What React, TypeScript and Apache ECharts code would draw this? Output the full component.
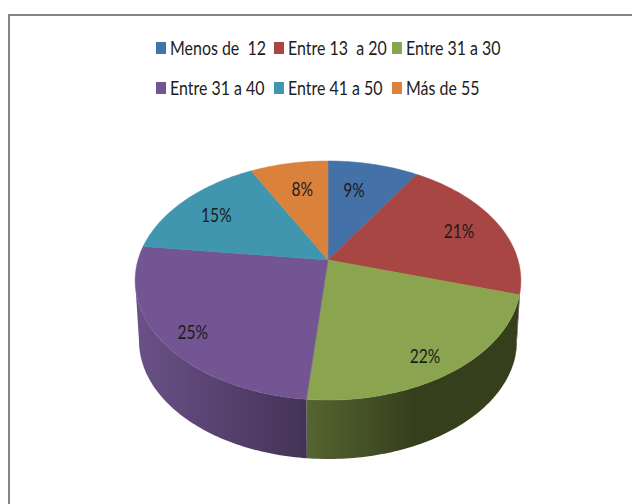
import React, { useEffect, useRef } from "react";
import * as echarts from "echarts";

const categories = ["Menos de  12", "Entre 13  a 20", "Entre 31 a 30", "Entre 31 a 40", "Entre 41 a 50", "Más de 55"];
const values = [9.0, 20.6, 21.9, 25.4, 15.4, 7.7];
const topColors = ["#4471a7", "#a84644", "#8aa44f", "#725592", "#4096af", "#da813c"];
const sideFrom = ["#2a4566", "#5e2726", "#556530", "#6a5188", "#265a69", "#84491f"];
const sideTo = ["#2a4566", "#5e2726", "#363f1c", "#443256", "#265a69", "#84491f"];

// layout constants (pixels / projection of the tilted disk)
const CX = 328;
const CY = 260;
const RX = 190;
const RY = 116;
const PERSP = 0.1715;
const DEPTH = 60.4;
const LABEL_R = [0.7, 0.77, 0.845, 0.85, 0.76, 0.71];
const LABEL_DA = [-3.6, 0, 2, -1.8, -0.6, 1.5];
const LEGEND_X = [156, 274, 392];
const LEGEND_Y = [48, 88];
const FONT = "Lato, 'Liberation Sans', sans-serif";
const INK = "#1c1c1c";

const total = values.reduce((a, b) => a + b, 0);
const starts = values.map((_, i) => (values.slice(0, i).reduce((a, b) => a + b, 0) / total) * 360);

function project(deg: number, r = 1): [number, number] {
  const a = (deg * Math.PI) / 180;
  const u = r * Math.sin(a);
  const v = r * Math.cos(a);
  const d = 1 + PERSP * v;
  return [CX + (RX * u) / d, CY - (RY * v) / d];
}
function projectBottom(deg: number): [number, number] {
  const [x, y] = project(deg);
  return [CX + (x - CX) * 0.98, CY + DEPTH + (y - CY) * 0.99];
}
function arc(a0: number, a1: number, fn: (d: number) => [number, number]) {
  const pts: [number, number][] = [];
  const n = Math.max(2, Math.ceil(Math.abs(a1 - a0)));
  for (let i = 0; i <= n; i++) pts.push(fn(a0 + ((a1 - a0) * i) / n));
  return pts;
}

const SIDE_MIN = 99.9;
const SIDE_MAX = 260.1;

function makeSeries(i: number) {
  return {
    type: "custom",
    name: categories[i],
    coordinateSystem: "none",
    itemStyle: { color: topColors[i] },
    data: [[values[i]]],
    z: i,
    renderItem: (_p: any, api: any) => {
      const sweep = (api.value(0) / total) * 360;
      const a0 = starts[i];
      const a1 = a0 + sweep;
      const children: any[] = [];
      const s0 = Math.max(a0, SIDE_MIN);
      const s1 = Math.min(a1, SIDE_MAX);
      if (s1 > s0) {
        const pts = [...arc(s0, s1, (d) => project(d)), ...arc(s1, s0, projectBottom)];
        const xs = pts.map((p) => p[0]);
        children.push({
          type: "polygon",
          shape: { points: pts },
          style: {
            fill: new echarts.graphic.LinearGradient(
              Math.min(...xs), 0, Math.max(...xs), 0,
              i === 2
                ? [{ offset: 0, color: sideFrom[i] }, { offset: 0.5, color: sideTo[i] }, { offset: 1, color: sideTo[i] }]
                : [{ offset: 0, color: sideFrom[i] }, { offset: 1, color: sideTo[i] }],
              true
            ),
          },
        });
      }
      children.push({
        type: "polygon",
        shape: { points: [[CX, CY], ...arc(a0, a1, (d) => project(d))] },
        style: { fill: topColors[i], stroke: topColors[i], lineWidth: 0.5 },
      });
      const [lx, ly] = project((a0 + a1) / 2 + LABEL_DA[i], LABEL_R[i]);
      children.push({
        type: "text",
        x: lx,
        y: ly,
        scaleX: 0.78,
        z2: 10,
        style: {
          text: `${Math.round(api.value(0))}%`,
          fontFamily: FONT,
          fontSize: 20,
          fill: INK,
          align: "center",
          verticalAlign: "middle",
        },
      });
      return { type: "group", children };
    },
  };
}

const legendGraphics = categories.flatMap((name, i) => {
  const x = LEGEND_X[i % 3];
  const y = LEGEND_Y[Math.floor(i / 3)];
  return [
    { type: "rect", shape: { x, y: y - 6, width: 10, height: 12 }, style: { fill: topColors[i] } },
    {
      type: "text",
      x: x + 14,
      y,
      scaleX: 0.84,
      style: { text: name, fontFamily: FONT, fontSize: 19, fill: INK, align: "left", verticalAlign: "middle" },
    },
  ];
});

export default function App() {
  const ref = useRef<HTMLDivElement>(null);
  useEffect(() => {
    const chart = echarts.init(ref.current!, undefined, { renderer: "svg" });
    chart.setOption({
      animation: false,
      backgroundColor: "#ffffff",
      graphic: [
        {
          type: "rect",
          z: -10,
          silent: true,
          shape: { x: 9, y: 15, width: 800, height: 800 },
          style: { fill: "#ffffff", stroke: "#858585", lineWidth: 2 },
        },
        ...legendGraphics,
      ],
      series: values.map((_, i) => makeSeries(i)),
    });
    return () => chart.dispose();
  }, []);
  return <div ref={ref} style={{ position: "absolute", left: 0, top: 0, width: 632, height: 504 }} />;
}
